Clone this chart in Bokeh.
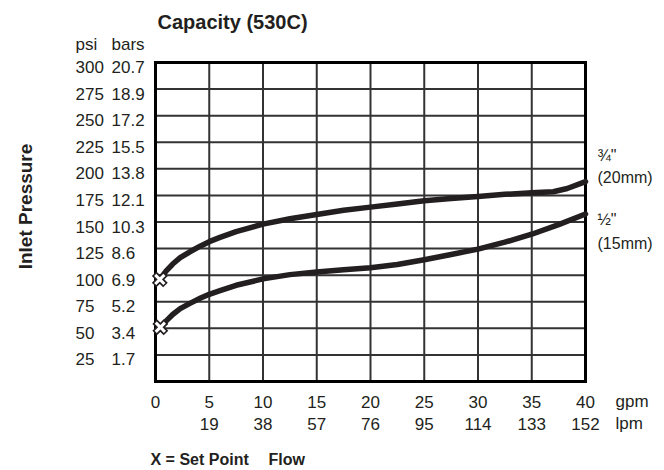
from bokeh.plotting import figure
from bokeh.models import Range1d
from bokeh.core.properties import value
from bokeh.embed import file_html
from bokeh.resources import INLINE
import math

# ---- data ----
gpm_ticks = [0, 5, 10, 15, 20, 25, 30, 35, 40]
gpm_labels = ["0", "5", "10", "15", "20", "25", "30", "35", "40"]
lpm_ticks = [5, 10, 15, 20, 25, 30, 35, 40]
lpm_labels = ["19", "38", "57", "76", "95", "114", "133", "152"]
psi_ticks = [0, 25, 50, 75, 100, 125, 150, 175, 200, 225, 250, 275, 300]
psi_labels = ["", "25", "50", "75", "100", "125", "150", "175", "200", "225", "250", "275", "300"]
bar_labels = ["", "1.7", "3.4", "5.2", "6.9", "8.6", "10.3", "12.1", "13.8", "15.5", "17.2", "18.9", "20.7"]

# 3/4" (20mm) curve: flow gpm, inlet pressure psi
flow_34 = [0.4, 1.0, 1.6, 2.3, 3.2, 4.2, 5, 6, 7.5, 10, 12.5, 15, 17.5, 20, 22.5, 25, 27.5, 30,
           32.5, 35, 37, 38.3, 40]
psi_34 = [96, 104, 110.5, 116.5, 122, 127.5, 131.5, 135.5, 141, 148, 153, 157, 161, 164, 167, 170,
          172, 174, 176, 177.5, 178.5, 181.5, 188]
# 1/2" (15mm) curve
flow_12 = [0.45, 1.0, 1.6, 2.3, 3.2, 4.2, 5, 6, 7.5, 10, 12.5, 15, 17.5, 20, 22.5, 25, 27.5, 30,
           32.5, 35, 37.5, 40]
psi_12 = [51, 57, 63, 68.5, 73.5, 78.5, 82, 85.5, 90.5, 96.5, 100.5, 103, 105, 107, 110, 114.5,
          119.5, 124.5, 131, 138.5, 147.5, 157.5]
# set points
set_flow = [0.4, 0.45]
set_psi = [96, 51]

# ---- layout (pixels) ----
W, H = 664, 470
PL, PR, PT, PB = 155, 585, 62, 381          # plot box inside the canvas
X0, X1 = gpm_ticks[0], gpm_ticks[-1]
Y0, Y1 = psi_ticks[0], psi_ticks[-1]
kx = (PR - PL) / (X1 - X0)
ky = (PB - PT) / (Y1 - Y0)

def gx(px):          # canvas x -> flow units
    return X0 + (px - PL) / kx

def py(px):          # canvas y -> psi units
    return Y0 + (PB - px) / ky

FONT = "Liberation Sans"
INK = "#231f20"

p = figure(width=W, height=H,
           x_range=Range1d(X0 - PL / kx, X1 + (W - PR) / kx),
           y_range=Range1d(Y0 - (H - PB) / ky, Y1 + PT / ky),
           x_axis_type=None, y_axis_type=None,
           output_backend="svg", toolbar_location=None,
           min_border=0, min_border_left=0, min_border_right=0, min_border_top=0, min_border_bottom=0)
p.outline_line_color = None
p.background_fill_color = "white"
p.border_fill_color = "white"
p.xgrid.visible = False
p.ygrid.visible = False

# grid
inner_x = gpm_ticks[1:-1]
inner_y = psi_ticks[1:-1]
p.segment(x0=inner_x, y0=[Y0] * len(inner_x), x1=inner_x, y1=[Y1] * len(inner_x),
          line_color="#333333", line_width=2)
p.segment(x0=[X0] * len(inner_y), y0=inner_y, x1=[X1] * len(inner_y), y1=inner_y,
          line_color="#333333", line_width=2)
p.quad(left=[X0], right=[X1], bottom=[Y0], top=[Y1], fill_color=None,
       line_color="black", line_width=3, line_join="miter")

# curves
p.line(flow_34, psi_34, line_width=5.5, line_color=INK, line_cap="round", line_join="round")
p.line(flow_12, psi_12, line_width=5.5, line_color=INK, line_cap="round", line_join="round")
p.scatter(set_flow, set_psi, marker="x", size=16, line_width=6.5, line_color=INK)
p.scatter(set_flow, set_psi, marker="x", size=13, line_width=3, line_color="white")

def txt(xs, ys, texts, size="17px", style="normal", align="left", angle=0, yoff=0):
    p.text(x=xs, y=ys, text=texts, text_font=value(FONT), text_font_size=value(size),
           text_font_style=style, text_align=align, text_baseline="middle",
           text_color=INK, angle=angle, y_offset=yoff)

# y tick labels (two columns)
txt([gx(75)] * len(psi_ticks), psi_ticks, psi_labels, yoff=4.5)
txt([gx(111)] * len(psi_ticks), psi_ticks, bar_labels, yoff=4.5)
# x tick labels (two rows)
txt(gpm_ticks, [py(401)] * len(gpm_ticks), gpm_labels, align="center")
txt(lpm_ticks, [py(423)] * len(lpm_ticks), lpm_labels, align="center")

def lab(text, x, y, size="17px", style="normal", align="left", angle=0):
    txt([gx(x)], [py(y)], [text], size=size, style=style, align=align, angle=angle)

lab("Capacity (530C)", 157, 21, size="20px", style="bold")
lab("psi", 75, 44)
lab("bars", 111, 44)
lab("Inlet Pressure", 25, 206, size="19px", style="bold", align="center", angle=math.pi / 2)
lab("gpm", 615, 401)
lab("lpm", 615, 423)
lab("X = Set Point", 150, 459, size="16px", style="bold")
lab("Flow", 268, 459, size="16px", style="bold")
lab("\u00be\"", 597, 155, size="16px")
lab("(20mm)", 597, 177, size="16px")
lab("\u00bd\"", 597, 219, size="16px")
lab("(15mm)", 597, 243, size="16px")

open("out.html", "w").write(file_html(p, INLINE))
